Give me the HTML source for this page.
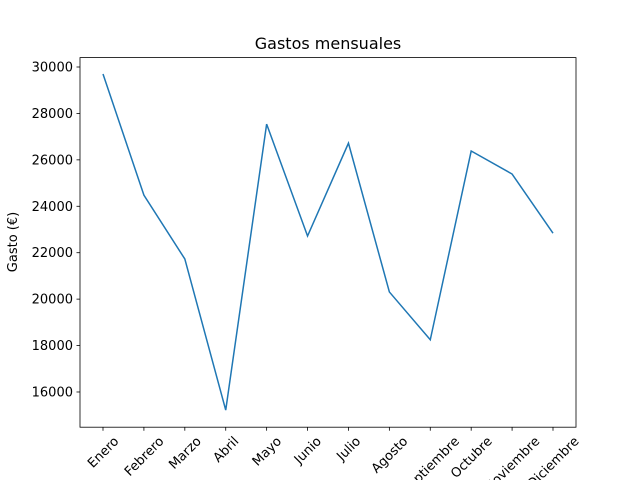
<!DOCTYPE html>
<html><head><meta charset="utf-8"><style>
body{margin:0;background:#fff;font-family:"Liberation Sans","DejaVu Sans",sans-serif;}
svg text{font-family:"DejaVu Sans","Liberation Sans",sans-serif;}
</style></head><body>
<svg id="chart" width="640" height="480" xmlns="http://www.w3.org/2000/svg">
<rect width="640" height="480" fill="#fff"/>
<text x="328" y="49" font-size="16" text-anchor="middle">Gastos mensuales</text>
<text transform="translate(17,242) rotate(-90)" font-size="13" text-anchor="middle">Gasto (€)</text>
<g id="axes"></g>
</svg>
<script>
const categories=["Enero","Febrero","Marzo","Abril","Mayo","Junio","Julio","Agosto","Septiembre","Octubre","Noviembre","Diciembre"];
const values=[29700,24480,21730,15220,27540,22720,26720,20310,18250,26380,25390,22840];
const yTicks=[16000,18000,20000,22000,24000,26000,28000,30000];
const L=80,R=576,T=57.6,B=427.2,yMin=14483,yMax=30405;
const ns="http://www.w3.org/2000/svg";
const g=document.getElementById('axes');
function xs(i){return 103+i*(553-103)/(categories.length-1);}
function ys(v){return B-(v-yMin)/(yMax-yMin)*(B-T);}
function mk(t,a){const e=document.createElementNS(ns,t);for(const k in a)e.setAttribute(k,a[k]);g.appendChild(e);return e;}
yTicks.forEach(v=>{const y=ys(v);
const tk=mk('line',{x1:L-3.5,x2:L,y1:y,y2:y,stroke:'#000','stroke-width':0.8});


const t=mk('text',{x:L-7,y:y+4.5,'font-size':13,'text-anchor':'end'});t.textContent=v;

});
categories.forEach((c,i)=>{const x=xs(i);
const tk=mk('line',{x1:x,x2:x,y1:B,y2:B+3.5,stroke:'#000','stroke-width':0.8});


const t=mk('text',{'font-size':13,'text-anchor':'middle'});t.textContent=c;


const w=t.getComputedTextLength();const h=13;
const cy=B+7+(w+h)*0.7071/2;
t.setAttribute('transform',`translate(${x},${cy}) rotate(-45) translate(0,4.5)`);});
const p=mk('polyline',{points:values.map((v,i)=>xs(i)+','+ys(v)).join(' '),fill:'none',stroke:'#1f77b4','stroke-width':1.5});


const fr=mk('rect',{x:L,y:T,width:R-L,height:B-T,fill:'none',stroke:'#000','stroke-width':0.8});


</script>
</body></html>
